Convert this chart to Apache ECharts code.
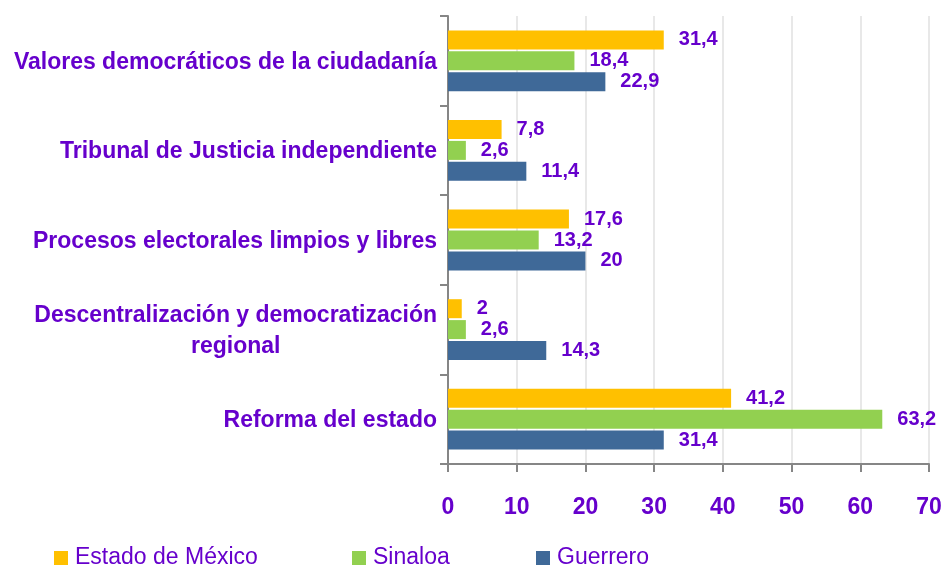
<!DOCTYPE html>
<html>
<head>
<meta charset="utf-8">
<script src="https://cdn.jsdelivr.net/npm/echarts@6/dist/echarts.min.js"></script>
<style>
html,body{margin:0;padding:0;background:#fff;}
#c{width:945px;height:569px;}
</style>
</head>
<body>
<div id="c"></div>
<script>
var categories = [
  'Valores democráticos de la ciudadanía',
  'Tribunal de Justicia independiente',
  'Procesos electorales limpios y libres',
  'Descentralización y democratización\nregional',
  'Reforma del estado'
];
var seriesNames = ['Estado de México', 'Sinaloa', 'Guerrero'];
var estadoMexico = [31.4, 7.8, 17.6, 2, 41.2];
var sinaloa = [18.4, 2.6, 13.2, 2.6, 63.2];
var guerrero = [22.9, 11.4, 20, 14.3, 31.4];
var xTicks = [0, 10, 20, 30, 40, 50, 60, 70];

var purple = '#6600CC';
var colors = ['#FFC000', '#92D050', '#3F6998'];
var fontFam = '"Liberation Sans", Arial, sans-serif';

var chart = echarts.init(document.getElementById('c'));

function mkSeries(name, data, color) {
  return {
    name: name,
    type: 'bar',
    data: data,
    barWidth: 19,
    barGap: '10%',
    itemStyle: { color: color },
    label: {
      show: true,
      position: 'right',
      distance: 15,
      color: purple,
      fontFamily: fontFam,
      fontWeight: 'bold',
      fontSize: 20,
      formatter: function (p) { return String(p.value).replace('.', ','); }
    }
  };
}

function mkLegend(name, left) {
  return {
    data: [name],
    left: left,
    top: 541,
    itemWidth: 14,
    itemHeight: 14,
    icon: 'rect',
    textStyle: {
      color: purple,
      fontFamily: fontFam,
      fontSize: 23,
      lineHeight: 24,
      padding: [0, 0, 0, 2]
    }
  };
}

chart.setOption({
  animation: false,
  backgroundColor: '#fff',
  color: colors,
  grid: { left: 448, right: 16, top: 16, bottom: 105, containLabel: false },
  legend: [
    mkLegend(seriesNames[0], 49),
    mkLegend(seriesNames[1], 347),
    mkLegend(seriesNames[2], 531)
  ],
  xAxis: {
    type: 'value',
    min: xTicks[0],
    max: xTicks[xTicks.length - 1],
    interval: 10,
    axisLine: { show: true, lineStyle: { color: '#868686', width: 2 } },
    axisTick: { show: true, length: 8, lineStyle: { color: '#868686', width: 2 } },
    splitLine: { show: true, lineStyle: { color: '#E8E8E8', width: 2 } },
    axisLabel: {
      margin: 32,
      color: purple,
      fontFamily: fontFam,
      fontWeight: 'bold',
      fontSize: 23
    }
  },
  yAxis: {
    type: 'category',
    inverse: true,
    data: categories,
    axisLine: { show: true, lineStyle: { color: '#868686', width: 2 } },
    axisTick: { show: true, length: 8, lineStyle: { color: '#868686', width: 2 } },
    axisLabel: {
      margin: 11,
      color: purple,
      fontFamily: fontFam,
      fontWeight: 'bold',
      fontSize: 23,
      lineHeight: 31,
      formatter: function (v) {
        return v.split('\n').map(function (l) { return '{c|' + l + '}'; }).join('\n');
      },
      rich: {
        c: {
          align: 'center',
          color: purple,
          fontFamily: fontFam,
          fontWeight: 'bold',
          fontSize: 23,
          lineHeight: 31,
          padding: [3, 0, 0, 0]
        }
      }
    }
  },
  series: [
    mkSeries(seriesNames[0], estadoMexico, colors[0]),
    mkSeries(seriesNames[1], sinaloa, colors[1]),
    mkSeries(seriesNames[2], guerrero, colors[2])
  ]
});
</script>
</body>
</html>
